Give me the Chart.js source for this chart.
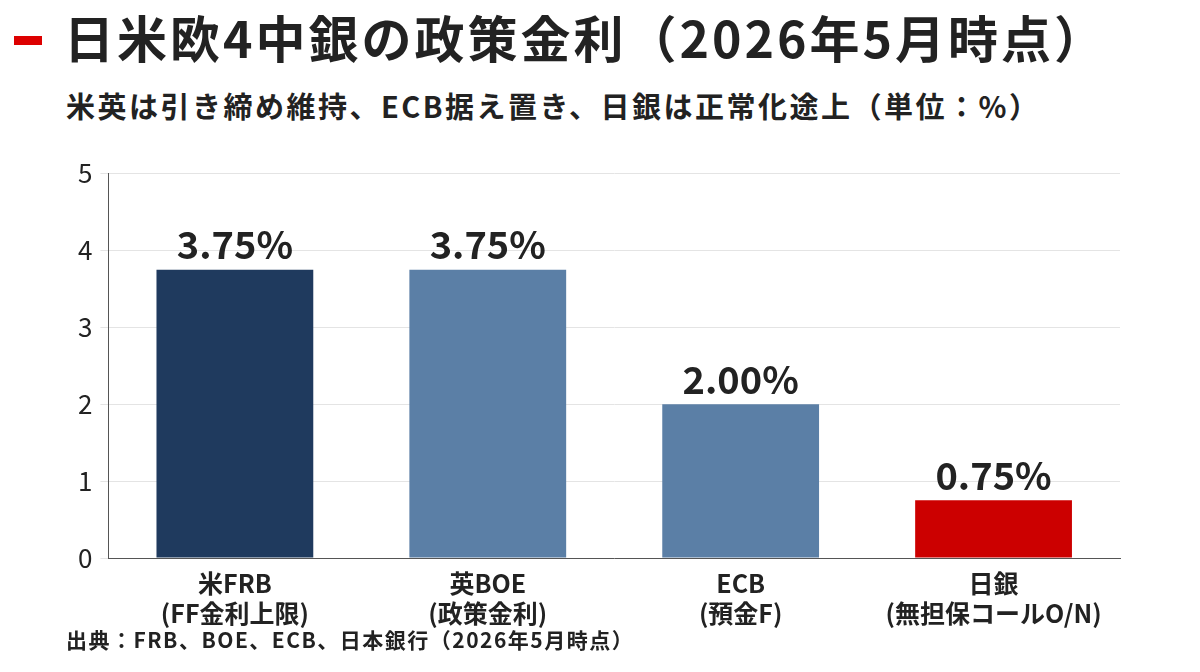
<!DOCTYPE html>
<html><head><meta charset="utf-8">
<script src="https://cdn.jsdelivr.net/npm/chart.js@4/dist/chart.umd.min.js"></script>
<style>
body{margin:0;width:1200px;height:672px;background:#fff;font-family:"Noto Sans CJK JP","Noto Sans",sans-serif;position:relative;overflow:hidden;color:#222}
#title{position:absolute;left:64px;top:0px;font-size:50px;font-weight:bold;letter-spacing:3px;white-space:nowrap}
#dash{position:absolute;left:14px;top:36px;width:28px;height:9px;background:#d00}
#sub{position:absolute;left:66px;top:84px;font-size:29px;font-weight:bold;letter-spacing:2.5px;white-space:nowrap}
#src{position:absolute;left:66px;top:624px;font-size:21px;font-weight:bold;letter-spacing:1.5px;white-space:nowrap}
#wrap{position:absolute;left:0;top:150px;width:1200px;height:480px}
</style></head><body>
<div id="dash"></div>
<div id="title">日米欧4中銀の政策金利（2026年5月時点）</div>
<div id="sub">米英は引き締め維持、ECB据え置き、日銀は正常化途上（単位：%）</div>
<div id="wrap"><canvas id="c" width="1200" height="480"></canvas></div>
<div id="src">出典：FRB、BOE、ECB、日本銀行（2026年5月時点）</div>
<script>
const categories = [["米FRB","(FF金利上限)"],["英BOE","(政策金利)"],["ECB","(預金F)"],["日銀","(無担保コールO/N)"]];
const rates = [3.75, 3.75, 2.00, 0.75];
const barColors = ["#1f3a5e","#5b7fa6","#5b7fa6","#cc0000"];
const yTicks = [0,1,2,3,4,5];

const labelPlugin = {
  id:'vals',
  afterDatasetsDraw(chart){
    const ctx = chart.ctx;
    chart.getDatasetMeta(0).data.forEach((b,i)=>{
      ctx.save();
      ctx.font = 'bold 38px "Noto Sans CJK JP"';
      ctx.fillStyle = '#222';
      ctx.textAlign = 'center';
      ctx.textBaseline = 'bottom';
      ctx.fillText(rates[i].toFixed(2)+'%', b.x, b.y-6);
      ctx.restore();
    });
  }
};
new Chart(document.getElementById('c'),{
  type:'bar',
  data:{labels:categories,datasets:[{data:rates,backgroundColor:barColors,barPercentage:0.62,categoryPercentage:1}]},
  options:{
    responsive:false,animation:false,
    layout:{padding:{left:70,right:80,top:5}},
    plugins:{legend:{display:false},tooltip:{enabled:false}},
    scales:{
      x:{grid:{display:false},border:{color:'#555'},
        ticks:{color:'#222',font:{size:25,weight:'bold',family:'"Noto Sans CJK JP"'},padding:2}},
      y:{min:0,max:5,afterBuildTicks(a){a.ticks=yTicks.map(v=>({value:v}));},
        grid:{color:'#e4e4e4'},border:{color:'#555'},
        ticks:{color:'#222',font:{size:26,family:'"Noto Sans CJK JP"'},padding:8}}
    }
  },
  plugins:[labelPlugin]
});
</script>
</body></html>
